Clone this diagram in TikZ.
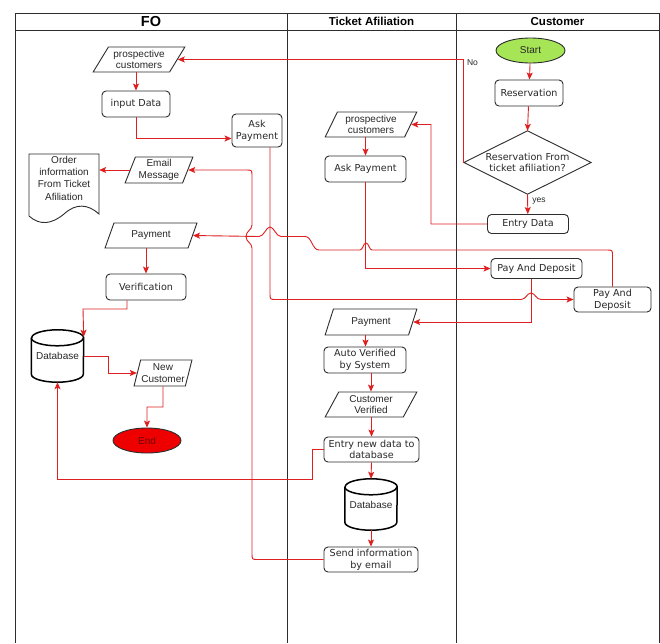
\documentclass[tikz,border=0pt]{standalone}
\usepackage{fontspec}
\setmainfont{Liberation Sans}
\newfontfamily\dvfont{DejaVu Sans}
\usetikzlibrary{shapes.geometric,arrows.meta}
\definecolor{lnred}{RGB}{222,32,32}
\definecolor{bd}{RGB}{45,45,45}
\definecolor{stgreen}{RGB}{166,230,86}
\definecolor{endred}{RGB}{238,0,0}
\definecolor{txt}{RGB}{40,40,40}
\newcommand\mycyl[1]{%
  \draw[cylst] ([yshift=-8pt]#1.north west) -- ([yshift=8pt]#1.south west)
    arc[start angle=180,end angle=360,x radius=26pt,y radius=8pt]
    -- ([yshift=-8pt]#1.north east)
    arc[start angle=0,end angle=180,x radius=26pt,y radius=8pt];
  \draw[cylst] ([yshift=-8pt]#1.north west)
    arc[start angle=180,end angle=360,x radius=26pt,y radius=8pt];}
\begin{document}
\begin{tikzpicture}[x=1pt,y=-1pt,
  lane/.style={draw=bd,line width=1pt},
  shp/.style={draw=bd,line width=0.9pt},
  cylst/.style={draw=black,line width=1.5pt},
  rbox/.style={shp,rounded corners=4pt,fill=white,align=center,inner sep=0pt,text=txt,font=\dvfont\fontsize{9.6}{11.7}\selectfont},
  para/.style={shp,trapezium,trapezium stretches=true,fill=white,align=center,inner sep=0pt,text=txt,font=\fontsize{10}{11.6}\selectfont},
  plain/.style={inner sep=0pt,align=center,text=txt,font=\fontsize{10}{11.6}\selectfont},
  conn/.style={draw=lnred,line width=0.9pt},
  arr/.style={conn,-{Stealth[length=7pt,width=6pt,inset=1.5pt]}},
  lbl/.style={inner sep=0pt,text=txt,font=\fontsize{8.5}{10}\selectfont},
  hdr/.style={inner sep=0pt,text=black,font=\bfseries\fontsize{11.5}{13}\selectfont},
]
\fill[white] (0,0) rectangle (660,643);
\useasboundingbox (0,0) rectangle (660,643);

% swimlanes
\draw[lane] (15,643) -- (15,13) -- (659,13) -- (659,643);
\draw[lane] (15,30) -- (659,30);
\draw[lane] (287,13) -- (287,643);
\draw[lane] (456,13) -- (456,643);
\node[hdr,font=\bfseries\fontsize{14.5}{16}\selectfont] (hfo) at (151,21.5) {FO};
\node[hdr] (hta) at (371.5,21.5) {Ticket Afiliation};
\node[hdr] (hcu) at (557.5,21.5) {Customer};

% ---------- FO lane ----------
\node[para,trapezium left angle=56,trapezium right angle=124,minimum width=92pt,minimum height=25pt] (fpc) at (139,59.5) {prospective\\customers};
\node[rbox,minimum width=68pt,minimum height=26pt] (fin) at (136,104) {input Data};
\node[rbox,minimum width=50pt,minimum height=33pt] (fask) at (257,130.5) {Ask\\Payment};
\node[plain,minimum width=70pt,font=\fontsize{10}{12.2}\selectfont] (ford) at (64,178.3) {Order\\information\\From Ticket\\Afiliation};
\draw[shp] (29,154) -- (99,154) -- (99,214) .. controls (88,204) and (76,203) .. (64,214)
  .. controls (52,224) and (40,226) .. (29,216) -- cycle;
\node[para,trapezium left angle=67,trapezium right angle=113,minimum width=68pt,minimum height=26pt] (femail) at (159,170) {Email\\Message};
\node[para,trapezium left angle=62,trapezium right angle=118,minimum width=92pt,minimum height=25pt] (fpay) at (151,235.5) {Payment};
\node[rbox,minimum width=80pt,minimum height=26pt] (fver) at (146,287) {Verification};
\node[plain,minimum width=52pt,minimum height=52pt] (fdb) at (57.5,356) {Database};
\mycyl{fdb}
\node[para,trapezium left angle=71,trapezium right angle=109,minimum width=58pt,minimum height=26pt] (fnew) at (163,373) {New\\Customer};
\node[shp,ellipse,fill=endred,minimum width=68pt,minimum height=25pt,inner sep=0pt,text={rgb,255:red,110;green,0;blue,0},font=\fontsize{10}{12}\selectfont] (fend) at (147,440.5) {End};

% ---------- Ticket Afiliation lane ----------
\node[para,trapezium left angle=64,trapezium right angle=116,minimum width=92pt,minimum height=25pt] (tpc) at (371,124.5) {prospective\\customers};
\node[rbox,minimum width=81pt,minimum height=26pt] (task) at (365.5,169) {Ask Payment};
\node[para,trapezium left angle=64,trapezium right angle=116,minimum width=92pt,minimum height=26pt] (tpay) at (371,322) {Payment};
\node[rbox,minimum width=82pt,minimum height=26pt] (tauto) at (365,360) {Auto Verified\\by System};
\node[para,trapezium left angle=64,trapezium right angle=116,minimum width=92pt,minimum height=25pt] (tcv) at (371,404.5) {Customer\\Verified};
\node[rbox,minimum width=95pt,minimum height=25pt] (tentry) at (371.5,449.5) {Entry new data to\\database};
\node[plain,minimum width=52pt,minimum height=51pt] (tdb) at (371,504.5) {Database};
\mycyl{tdb}
\node[rbox,minimum width=94pt,minimum height=25pt] (tsend) at (371,559.5) {Send information\\by email};

% ---------- Customer lane ----------
\node[shp,ellipse,fill=stgreen,minimum width=69pt,minimum height=25pt,inner sep=0pt,text=txt,font=\fontsize{10}{12}\selectfont] (cstart) at (530.5,50.5) {Start};
\node[rbox,minimum width=68pt,minimum height=26pt] (cres) at (529,93) {Reservation};
\node[plain,minimum width=127pt,minimum height=63pt,font=\dvfont\fontsize{9.6}{11.7}\selectfont] (cdia) at (527.5,162.5) {Reservation From\\ticket afiliation?};
\draw[shp] (cdia.north) -- (cdia.east) -- (cdia.south) -- (cdia.west) -- cycle;
\node[rbox,minimum width=81pt,minimum height=19pt] (centry) at (528,224) {Entry Data};
\node[rbox,minimum width=91pt,minimum height=20pt] (cpd1) at (536.5,268.5) {Pay And Deposit};
\node[rbox,minimum width=77pt,minimum height=25pt] (cpd2) at (612.5,299.5) {Pay And\\Deposit};

% ---------- connectors ----------
\draw[arr] (cstart) -- (cres);
\draw[arr] (cres) -- (cdia.north);
\draw[arr] (cdia.south) -- (centry);
\node[lbl] (lyes) at (539,201) {yes};
\draw[arr] (cdia.west) -- (cdia.west |- fpc.east) -- (fpc.east);
\node[lbl] (lno) at (472.5,62.5) {No};
\draw[arr] (centry.west) -- (431,224) -- (431,124.5) -- (tpc.east);
\draw[arr] (task.north |- tpc.south) -- (task.north);
\draw[arr] (fin.north |- fpc.south) -- (fin.north);
\draw[arr] (fin.south) |- ([yshift=-8pt]fask.west);
\draw[arr] (task.south) |- (cpd1.west);
% FO Ask Payment -> Pay And Deposit (2), hop over vertical at x=531
\draw[arr] ([xshift=13pt]fask.south) -- (270,293.5) .. controls (270,299.5) .. (276,299.5)
  -- (521,299.5)
  .. controls (526,299.5) and (527,293) .. (531,293)
  .. controls (535,293) and (536,299.5) .. (541,299.5) -- (cpd2.west);
\draw[arr] ([xshift=-5.5pt]cpd1.south) |- (tpay.east);
% Pay And Deposit (2) -> FO Payment, hops at x=366 and x=270
\draw[arr] (cpd2.north) -- (612.5,256) .. controls (612.5,250) .. (606.5,250) -- (372,250)
  .. controls (369,250) and (369,243) .. (366,243)
  .. controls (363,243) and (363,250) .. (360,250)
  -- (319,250) .. controls (312,250) and (312,236.5) .. (305,236.5) -- (281,236.5)
  .. controls (276,236.5) and (274,227) .. (270,227)
  .. controls (266,227) and (264,236.5) .. (259,236.5) -- (fpay.east);
\draw[arr] (fver.north |- fpay.south) -- (fver.north);
\draw[arr] (tpay.south -| task.south) -- (tauto.north -| task.south);
\draw[arr] (tauto.south -| tcv.north) -- (tcv.north);
\draw[arr] (tentry.north |- tcv.south) -- (tentry.north);
\draw[arr] (tentry.south) -- (tdb.north);
\draw[arr] (tdb.south) -- (tsend.north);
\draw[arr] (tentry.west) -- (312,449.5) -- (312,479) -| (fdb.south);
% Send information -> Email Message, hop at y=236.5
\draw[arr] (tsend.west) -- (258,559.5) .. controls (252,559.5) .. (252,553.5) -- (252,248)
  .. controls (252,243) and (246,242) .. (246,236.5)
  .. controls (246,231) and (252,230) .. (252,225) -- (252,176)
  .. controls (252,170) .. (246,170) -- (femail.east);
\draw[arr] (femail.west) -- (ford.east |- femail.west);
\draw[arr] ([xshift=-19pt]fver.south) -- (127,309) -- (83,309) -- ([yshift=-7pt]fdb.north east);
\draw[arr] (fdb.east) -- (108,356) |- (fnew.west);
\draw[arr] (fnew.south) -- (163,407) -| (fend.north);
\end{tikzpicture}
\end{document}
